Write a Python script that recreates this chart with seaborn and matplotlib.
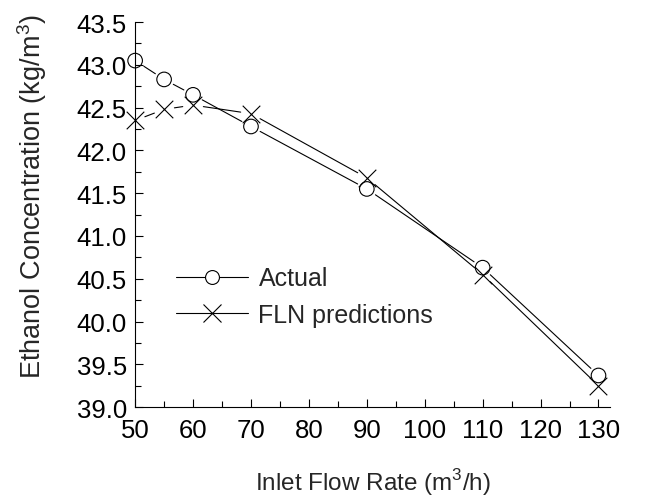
import matplotlib
matplotlib.use("Agg")
import matplotlib.pyplot as plt
from matplotlib.lines import Line2D
from matplotlib.ticker import MultipleLocator, FormatStrFormatter
import pandas as pd
import seaborn as sns

# Data
flow_rate = [50, 55, 60, 70, 90, 110, 130]
actual = [43.05, 42.83, 42.65, 42.28, 41.55, 40.63, 39.37]
fln_pred = [42.35, 42.48, 42.53, 42.43, 41.68, 40.55, 39.25]

df = pd.DataFrame({"flow": flow_rate, "actual": actual, "fln": fln_pred})

sns.set_style("ticks")
plt.rcParams["font.family"] = ["Liberation Sans", "DejaVu Sans"]
plt.rcParams["mathtext.fontset"] = "custom"
plt.rcParams["mathtext.rm"] = "Liberation Sans"

fs = 18.5

fig = plt.figure(figsize=(6.56, 5.02), dpi=100)
ax = fig.add_axes([0.206, 0.187, 0.724, 0.767])

# Connecting lines with gaps at the symbols (Origin style)
for col in ["actual", "fln"]:
    for i in range(len(df) - 1):
        ax.annotate(
            "",
            xy=(df["flow"][i + 1], df[col][i + 1]),
            xytext=(df["flow"][i], df[col][i]),
            arrowprops=dict(arrowstyle="-", color="black", lw=0.8,
                            shrinkA=7.5, shrinkB=7.5),
            annotation_clip=False,
        )

# Symbols
sns.scatterplot(data=df, x="flow", y="actual", marker="o", s=110,
                facecolor="none", edgecolor="black", linewidth=0.8,
                ax=ax, clip_on=False, zorder=3)
sns.scatterplot(data=df, x="flow", y="fln", marker="x", s=160,
                color="black", linewidth=0.8, ax=ax, clip_on=False, zorder=3)

ax.set_xlim(50, 132)
ax.set_ylim(39.0, 43.5)
ax.xaxis.set_major_locator(MultipleLocator(10))
ax.xaxis.set_minor_locator(MultipleLocator(5))
ax.yaxis.set_major_locator(MultipleLocator(0.5))
ax.yaxis.set_minor_locator(MultipleLocator(0.25))
ax.yaxis.set_major_formatter(FormatStrFormatter("%.1f"))
ax.tick_params(which="both", direction="in", labelsize=fs, color="black",
               labelcolor="black", width=0.8)
ax.tick_params(which="major", length=6)
ax.tick_params(which="minor", length=4)
ax.tick_params(axis="x", which="major", pad=8)
ax.tick_params(axis="y", which="major", pad=6)
sns.despine(ax=ax)
for s in ["left", "bottom"]:
    ax.spines[s].set_linewidth(0.8)
    ax.spines[s].set_color("black")

ax.set_xlabel("Inlet Flow Rate (m$^3$/h)", fontsize=17.5, labelpad=17)
ax.set_ylabel("Ethanol Concentration (kg/m$^3$)", fontsize=19.5, labelpad=20)
ax.yaxis.label.set_y(0.55)

handles = [
    Line2D([], [], color="black", lw=0.8, marker="o", markersize=10,
           markerfacecolor="white", markeredgecolor="black", markeredgewidth=0.8),
    Line2D([], [], color="black", lw=0.8, marker="x", markersize=12.5,
           markeredgewidth=0.8),
]
ax.legend(handles, ["Actual", "FLN predictions"], loc="center left",
          bbox_to_anchor=(0.086, 0.287), frameon=False, fontsize=18,
          handlelength=2.9, handletextpad=0.4, labelspacing=0.5,
          borderpad=0, borderaxespad=0)

fig.savefig("out.png", dpi=100)
